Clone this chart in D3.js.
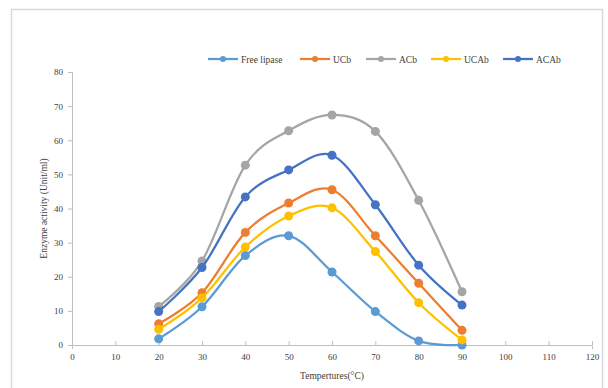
<!DOCTYPE html>
<html>
<head>
<meta charset="utf-8">
<script src="https://cdn.jsdelivr.net/npm/d3@7"></script>
<style>
  body { margin: 0; background: #fff; }
  text { font-family: "Liberation Serif", "DejaVu Serif", serif; fill: #404040; }
</style>
</head>
<body>
<div id="chart"></div>
<script>
const width = 608;
const height = 388;
const margin = { top: 72, right: 16, bottom: 43, left: 72 };

// temperatures (x) and enzyme activity per series
const temps = [20, 30, 40, 50, 60, 70, 80, 90];
const freeLipase = [1.8, 11.2, 26.2, 32.0, 21.4, 9.8, 1.2, 0.0];
const ucb = [6.2, 15.3, 33.0, 41.6, 45.5, 32.0, 18.1, 4.3];
const acb = [11.3, 24.6, 52.7, 62.8, 67.4, 62.6, 42.4, 15.6];
const ucab = [4.6, 13.8, 28.7, 37.8, 40.2, 27.4, 12.4, 1.5];
const acab = [9.8, 22.7, 43.4, 51.3, 55.6, 41.1, 23.4, 11.7];

const seriesNames = ["Free lipase", "UCb", "ACb", "UCAb", "ACAb"];
const seriesColors = ["#5B9BD5", "#ED7D31", "#A5A5A5", "#FFC000", "#4472C4"];
const seriesValues = [freeLipase, ucb, acb, ucab, acab];

const xTicks = d3.range(0, 121, 10);
const yTicks = d3.range(0, 81, 10);

const svg = d3.select("#chart")
    .append("svg")
    .attr("width", width)
    .attr("height", height);

// outer chart border
svg.append("rect")
    .attr("x", 11.5)
    .attr("y", 9.5)
    .attr("width", 591)
    .attr("height", 400)
    .attr("fill", "none")
    .attr("stroke", "#d9d9d9")
    .attr("stroke-width", 1.5);

const x = d3.scaleLinear()
    .domain([0, 120])
    .range([margin.left, width - margin.right - 0]);

const y = d3.scaleLinear()
    .domain([0, 80])
    .range([height - margin.bottom, margin.top]);

// x axis
const xAxis = svg.append("g")
    .attr("transform", `translate(0, ${y(0)})`)
    .call(d3.axisBottom(x).tickValues(xTicks).tickSize(4).tickPadding(5));
xAxis.select(".domain").attr("stroke", "#bfbfbf");
xAxis.selectAll(".tick line").attr("stroke", "#bfbfbf").attr("transform", "translate(0,-4)").attr("y2", 4);
xAxis.selectAll(".tick text")
    .style("font-size", "9px")
    .style("font-family", "Liberation Serif, serif")
    .attr("fill", "#404040");

// y axis
const yAxis = svg.append("g")
    .attr("transform", `translate(${x(0)}, 0)`)
    .call(d3.axisLeft(y).tickValues(yTicks).tickSize(4).tickPadding(5));
yAxis.select(".domain").attr("stroke", "#bfbfbf");
yAxis.selectAll(".tick line").attr("stroke", "#bfbfbf");
yAxis.selectAll(".tick text")
    .style("font-size", "9px")
    .style("font-family", "Liberation Serif, serif")
    .attr("fill", "#404040");

// axis titles
svg.append("text")
    .attr("x", (x(0) + x(120)) / 2)
    .attr("y", 379)
    .attr("text-anchor", "middle")
    .style("font-size", "9.5px")
    .text("Tempertures(°C)");

svg.append("text")
    .attr("transform", `translate(47, ${(y(0) + y(80)) / 2}) rotate(-90)`)
    .attr("text-anchor", "middle")
    .style("font-size", "9.5px")
    .text("Enzyme activity (Unit/ml)");

const line = d3.line()
    .x((d, i) => x(temps[i]))
    .y(d => y(d))
    .curve(d3.curveCardinal.tension(0));

seriesValues.forEach((vals, k) => {
    const g = svg.append("g");
    g.append("path")
        .datum(vals)
        .attr("d", line)
        .attr("fill", "none")
        .attr("stroke", seriesColors[k])
        .attr("stroke-width", 2.25)
        .attr("stroke-linecap", "round");
    g.selectAll("circle")
        .data(vals)
        .enter()
        .append("circle")
        .attr("cx", (d, i) => x(temps[i]))
        .attr("cy", d => y(d))
        .attr("r", 4.5)
        .attr("fill", seriesColors[k]);
});

// legend
const legendX = [208, 300, 366, 431, 503];
const legend = svg.selectAll(".legend")
    .data(seriesNames)
    .enter()
    .append("g")
    .attr("class", "legend")
    .attr("transform", (d, i) => `translate(${legendX[i]}, 59)`);

legend.append("line")
    .attr("x1", 0)
    .attr("x2", 30)
    .attr("stroke", (d, i) => seriesColors[i])
    .attr("stroke-width", 2.25);

legend.append("circle")
    .attr("cx", 15)
    .attr("r", 3)
    .attr("fill", (d, i) => seriesColors[i]);

legend.append("text")
    .attr("x", 33)
    .attr("y", 3.5)
    .style("font-size", "9.5px")
    .text(d => d);
</script>
</body>
</html>
